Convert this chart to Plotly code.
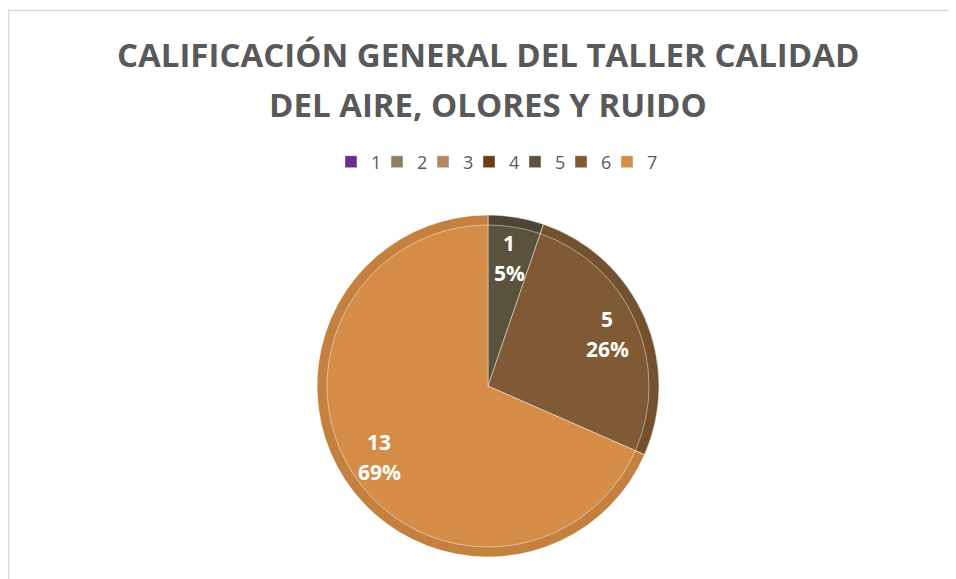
import math
import plotly.graph_objects as go

# Data
categories = ["1", "2", "3", "4", "5", "6", "7"]
counts = [0, 0, 0, 0, 1, 5, 13]
pct_labels = ["0%", "0%", "0%", "0%", "5%", "26%", "69%"]
title_lines = ["CALIFICACIÓN GENERAL DEL TALLER CALIDAD", "DEL AIRE, OLORES Y RUIDO"]

fill_colors = ["#6b2c90", "#8c8260", "#b08963", "#6b3d14", "#5b523d", "#7f5a35", "#d48c47"]
edge_colors = ["#5e2780", "#7d7455", "#9f7b58", "#5e3511", "#4e4634", "#73512f", "#c4803f"]

W, H = 956, 579
OFF = 8  # page body margin offset
cx, cy = 488 - OFF, 386 - OFF
R_outer = 171
R_inner = 161
LABEL_FRAC = 0.76
LEGEND_PITCH = 46


def dom(r):
    return dict(x=[(cx - r) / W, (cx + r) / W], y=[1 - (cy + r) / H, 1 - (cy - r) / H])


fig = go.Figure()

fig.add_trace(go.Pie(
    labels=categories, values=counts, sort=False, direction="clockwise", rotation=0,
    marker=dict(colors=edge_colors, line=dict(color="rgba(255,255,255,0.55)", width=1)),
    textinfo="none", hoverinfo="skip", showlegend=False, domain=dom(R_outer),
))

fig.add_trace(go.Pie(
    labels=categories, values=counts, text=pct_labels, sort=False,
    direction="clockwise", rotation=0,
    marker=dict(colors=fill_colors, line=dict(color="rgba(255,255,255,0.45)", width=1)),
    textinfo="none", domain=dom(R_inner), showlegend=True,
))

# invisible trailing legend spacer so the last legend label is not clipped
fig.add_trace(go.Scatter(x=[None], y=[None], mode="markers",
                         marker=dict(color="rgba(0,0,0,0)", size=1, line=dict(width=0)),
                         name=" ", showlegend=True, hoverinfo="skip"))

# slice labels placed at the middle angle of each slice (derived from data)
total = sum(counts)
cum = 0
for v, p in zip(counts, pct_labels):
    if v > 0:
        mid = (cum + v / 2) / total * 2 * math.pi
        r = LABEL_FRAC * R_outer
        lx = cx + r * math.sin(mid)
        ly = cy - r * math.cos(mid)
        for txt, dy in ((str(v), -15), (p, 15)):
            fig.add_annotation(text=txt, x=lx / W, y=1 - (ly + dy) / H, xref="paper", yref="paper",
                               showarrow=False, xanchor="center", yanchor="middle",
                               font=dict(family="Open Sans", size=21, color="white", weight="bold"))
    cum += v

for i, (line, ty) in enumerate(zip(title_lines, (55, 104))):
    fig.add_annotation(text=line, x=cx / W, y=1 - (ty - OFF) / H, xref="paper", yref="paper",
                       showarrow=False, xanchor="center", yanchor="middle",
                       font=dict(family="Open Sans", size=33, color="#595959", weight="bold"))

fig.add_shape(type="line", xref="paper", yref="paper", x0=0.5 / W, x1=1, y0=1 - 2.5 / H, y1=1 - 2.5 / H,
              line=dict(color="#d9d9d9", width=1.5))
fig.add_shape(type="line", xref="paper", yref="paper", x0=0.5 / W, x1=0.5 / W, y0=0, y1=1 - 2.5 / H,
              line=dict(color="#d9d9d9", width=1.5))

fig.update_layout(
    width=W, height=H, margin=dict(l=0, r=0, t=0, b=0),
    paper_bgcolor="white", plot_bgcolor="white",
    xaxis=dict(visible=False), yaxis=dict(visible=False),
    legend=dict(orientation="h", x=(492 + LEGEND_PITCH / 2 - OFF) / W, xanchor="center",
                y=1 - (162 - OFF) / H, yanchor="middle",
                font=dict(family="Open Sans", size=18, color="#595959"),
                traceorder="normal", itemwidth=30, entrywidth=1),
)

fig.write_html("out.html")
